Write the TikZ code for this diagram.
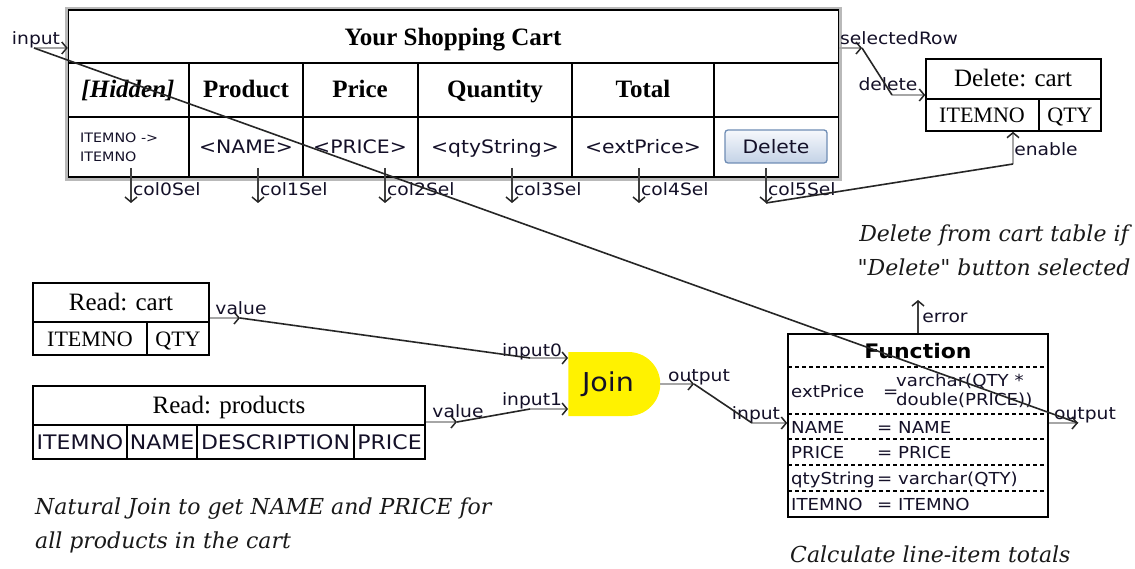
\documentclass[tikz,border=0pt]{standalone}
\usepackage{fontspec}
\usetikzlibrary{arrows.meta,shapes.misc}
\newfontfamily\sansf[FakeStretch=1.1]{DejaVu Sans}
\newfontfamily\serf{Liberation Serif}
\newfontfamily\notef{DejaVu Serif}
\newcommand{\setfs}[2]{\fontsize{#1}{#2}\selectfont}
\definecolor{btnborder}{HTML}{6F8DB5}
\definecolor{btntop}{HTML}{F6F8FC}
\definecolor{btnbot}{HTML}{C3D2E6}
\definecolor{ink}{HTML}{141028}
\tikzset{
  gridln/.style={line width=1.5pt, draw=black},
  boxnode/.style={draw=black, line width=1.5pt, fill=white, inner sep=0pt},
  portln/.style={line width=2.2pt, draw=gray!70,
    -{Straight Barb[length=5pt,width=12pt,line width=1.5pt,color=black!85]}},
  wire/.style={line width=1.6pt, draw=black!85},
  lbl/.style={font=\sansf\setfs{17}{19}, inner sep=0pt, text=ink, anchor=base},
  cell/.style={font=\sansf\setfs{18.5}{20}, inner sep=0pt, text=ink, anchor=base},
  fnrow/.style={font=\sansf\setfs{16.5}{19}, inner sep=0pt, text=ink, anchor=base west},
  hdr/.style={font=\serf\bfseries\setfs{25}{27}, inner sep=0pt, anchor=base},
  srftitle/.style={font=\serf\setfs{25}{27}, inner sep=0pt, anchor=base},
  srfcell/.style={font=\serf\setfs{22}{24}, inner sep=0pt, anchor=base},
  note/.style={font=\notef\itshape\setfs{22}{34}, inner sep=0pt, text=black!90},
  dashln/.style={line width=1.2pt, dash pattern=on 4pt off 3pt},
}
\begin{document}
\begin{tikzpicture}[x=1pt,y=-1pt]
\useasboundingbox (0,0) rectangle (1135,569);
\fill[white] (0,0) rectangle (1135,569);

% ---------- shopping cart table ----------
\draw[line width=3.6pt, draw=gray!55] (66.7,8.7) rectangle (840.3,179.3);
\node[boxnode, minimum width=770, minimum height=167] (cart) at (453.5,93.5) {};
\draw[gridln] (68.5,63) -- (838.5,63);
\draw[gridln] (68.5,117) -- (838.5,117);
\foreach \cx in {189,303,418,572,714} \draw[gridln] (\cx,63) -- (\cx,177);
\node[hdr] (title) at (453,45.5) {Your Shopping Cart};
\node[hdr, font=\serf\bfseries\itshape\setfs{25}{27}] (hHidden) at (128,98) {[Hidden]};
\node[hdr] (hProduct) at (246,98) {Product};
\node[hdr] (hPrice) at (360,98) {Price};
\node[hdr] (hQty) at (495,98) {Quantity};
\node[hdr] (hTotal) at (643,98) {Total};
\node[font=\sansf\setfs{13}{19}, inner sep=0pt, text=ink, align=left, anchor=west] (dHidden) at (80,147) {ITEMNO ->\\ITEMNO};
\node[cell] (dName) at (246,154) {<NAME>};
\node[cell] (dPrice) at (360,154) {<PRICE>};
\node[cell] (dQty) at (495,154) {<qtyString>};
\node[cell] (dExt) at (643,154) {<extPrice>};
\node[draw=btnborder, line width=1.3pt, rounded corners=3pt, top color=btntop,
      bottom color=btnbot, minimum width=102, minimum height=33, inner sep=0pt,
      font=\sansf\setfs{18.5}{20}, text=ink] (delbtn) at (776,146.5) {Delete};

% column selection ports
\foreach \i/\cx in {0/131,1/258,2/385,3/512,4/639,5/766}{
  \coordinate (cs\i) at (\cx,168);
  \coordinate (ce\i) at (\cx,203);
  \draw[portln, draw=black!75, line width=1.5pt] (cs\i) -- (ce\i);
  \node[lbl, anchor=base west] (lc\i) at (\cx+2,196) {col\i Sel};
}

% ---------- delete node ----------
\node[boxnode, minimum width=175, minimum height=72] (delbox) at (1013.5,95) {};
\draw[gridln] (926,99) -- (1101,99);
\draw[gridln] (1039,99) -- (1039,131);
\node[srftitle] (delT) at (1013,87) {Delete: cart};
\node[srfcell] (delA) at (982,122.5) {ITEMNO};
\node[srfcell] (delB) at (1070,122.5) {QTY};

% ---------- read cart ----------
\node[boxnode, minimum width=176, minimum height=72] (rcart) at (121,319) {};
\draw[gridln] (33,322) -- (209,322);
\draw[gridln] (147,322) -- (147,355);
\node[srftitle] (rcT) at (121,310.5) {Read: cart};
\node[srfcell] (rcA) at (90,346.5) {ITEMNO};
\node[srfcell] (rcB) at (178,346.5) {QTY};

% ---------- read products ----------
\node[boxnode, minimum width=392, minimum height=73] (rprod) at (229,422.5) {};
\draw[gridln] (33,425) -- (425,425);
\foreach \cx in {127,197,354} \draw[gridln] (\cx,425) -- (\cx,459);
\node[srftitle] (rpT) at (229,413.5) {Read: products};
\node[cell, font=\sansf\setfs{20}{22}] (rpA) at (80,449.5) {ITEMNO};
\node[cell, font=\sansf\setfs{20}{22}] (rpB) at (162,449.5) {NAME};
\node[cell, font=\sansf\setfs{20}{22}] (rpC) at (275.5,449.5) {DESCRIPTION};
\node[cell, font=\sansf\setfs{20}{22}] (rpD) at (389.5,449.5) {PRICE};

% ---------- join ----------
\node[rounded rectangle, rounded rectangle left arc=none, fill=yellow,
      minimum width=92, minimum height=64, inner sep=0pt,
      font=\sansf\setfs{26}{28}, text=ink] (join) at (613,384) {\hspace*{-10pt}Join};

% ---------- function ----------
\node[boxnode, minimum width=260, minimum height=183] (fn) at (918,425.5) {};
\foreach \cy in {367,414,439,465,491} \draw[dashln] (788,\cy) -- (1048,\cy);
\node[font=\sansf\bfseries\setfs{20}{22}, inner sep=0pt, text=black, anchor=base] (fnT) at (918,358.5) {Function};
\node[fnrow] (f1a) at (791,397) {extPrice};
\node[fnrow] (f1b) at (883,397) {=};
\node[fnrow, anchor=west, align=left] (f1c) at (896,391) {varchar(QTY *\\double(PRICE))};
\node[fnrow] (f2a) at (791,433) {NAME};
\node[fnrow] (f2b) at (877,433) {= NAME};
\node[fnrow] (f3a) at (791,458.5) {PRICE};
\node[fnrow] (f3b) at (877,458.5) {= PRICE};
\node[fnrow] (f4a) at (791,484) {qtyString};
\node[fnrow] (f4b) at (877,484) {= varchar(QTY)};
\node[fnrow] (f5a) at (791,510) {ITEMNO};
\node[fnrow] (f5b) at (877,510) {= ITEMNO};

% ---------- port end points ----------
\coordinate (inS) at (34,48);
\coordinate (selE) at (862,48);
\coordinate (delS) at (892,95);
\coordinate (enS) at (1013,164);
\coordinate (rcE) at (240,318);
\coordinate (in0S) at (530,358);
\coordinate (rpE) at (457,422);
\coordinate (in1S) at (530,409);
\coordinate (joE) at (694,384);
\coordinate (fiS) at (752,423);
\coordinate (erE) at (918,300);
\coordinate (foE) at (1078,423);

% ports
\draw[portln] (cart.east |- selE) -- (selE);
\draw[portln] (delS) -- (delS -| delbox.west);
\draw[portln] (enS) -- (enS |- delbox.south);
\draw[portln] (rcE -| rcart.east) -- (rcE);
\draw[portln] (in0S) -- (in0S -| join.west);
\draw[portln] (rpE -| rprod.east) -- (rpE);
\draw[portln] (in1S) -- (in1S -| join.west);
\draw[portln] (joE -| join.east) -- (joE);
\draw[portln] (fiS) -- (fiS -| fn.west);
\draw[portln, draw=black!75, line width=1.5pt] (erE |- fn.north) -- (erE);
\draw[portln] (foE -| fn.east) -- (foE);
\draw[portln] (inS) -- (inS -| cart.west);

% port labels
\node[lbl] (lIn) at (36,45) {input};
\node[lbl] (lSel) at (899,45) {selectedRow};
\node[lbl] (lDel) at (888,91) {delete};
\node[lbl] (lEn) at (1046,156) {enable};
\node[lbl] (lV0) at (241,314) {value};
\node[lbl] (lV1) at (458,417) {value};
\node[lbl] (lI0) at (532,356) {input0};
\node[lbl] (lI1) at (532,405) {input1};
\node[lbl] (lJo) at (699,381) {output};
\node[lbl] (lFi) at (756,419) {input};
\node[lbl] (lEr) at (945,323) {error};
\node[lbl] (lFo) at (1085,419) {output};

% wires
\draw[wire] (selE) -- (delS);
\draw[wire] (ce5) -- (enS);
\draw[wire] (rcE) -- (in0S);
\draw[wire] (rpE) -- (in1S);
\draw[wire] (joE) -- (fiS);
\draw[wire] (foE) -- (inS);

% ---------- notes ----------
\node[note, align=center] (n1) at (994,250) {Delete from cart table if\\"Delete" button selected};
\node[note, align=left, anchor=west] (n2) at (35,525) {Natural Join to get NAME and PRICE for\\all products in the cart};
\node[note, anchor=base west] (n3) at (790,562) {Calculate line-item totals};
\end{tikzpicture}
\end{document}
